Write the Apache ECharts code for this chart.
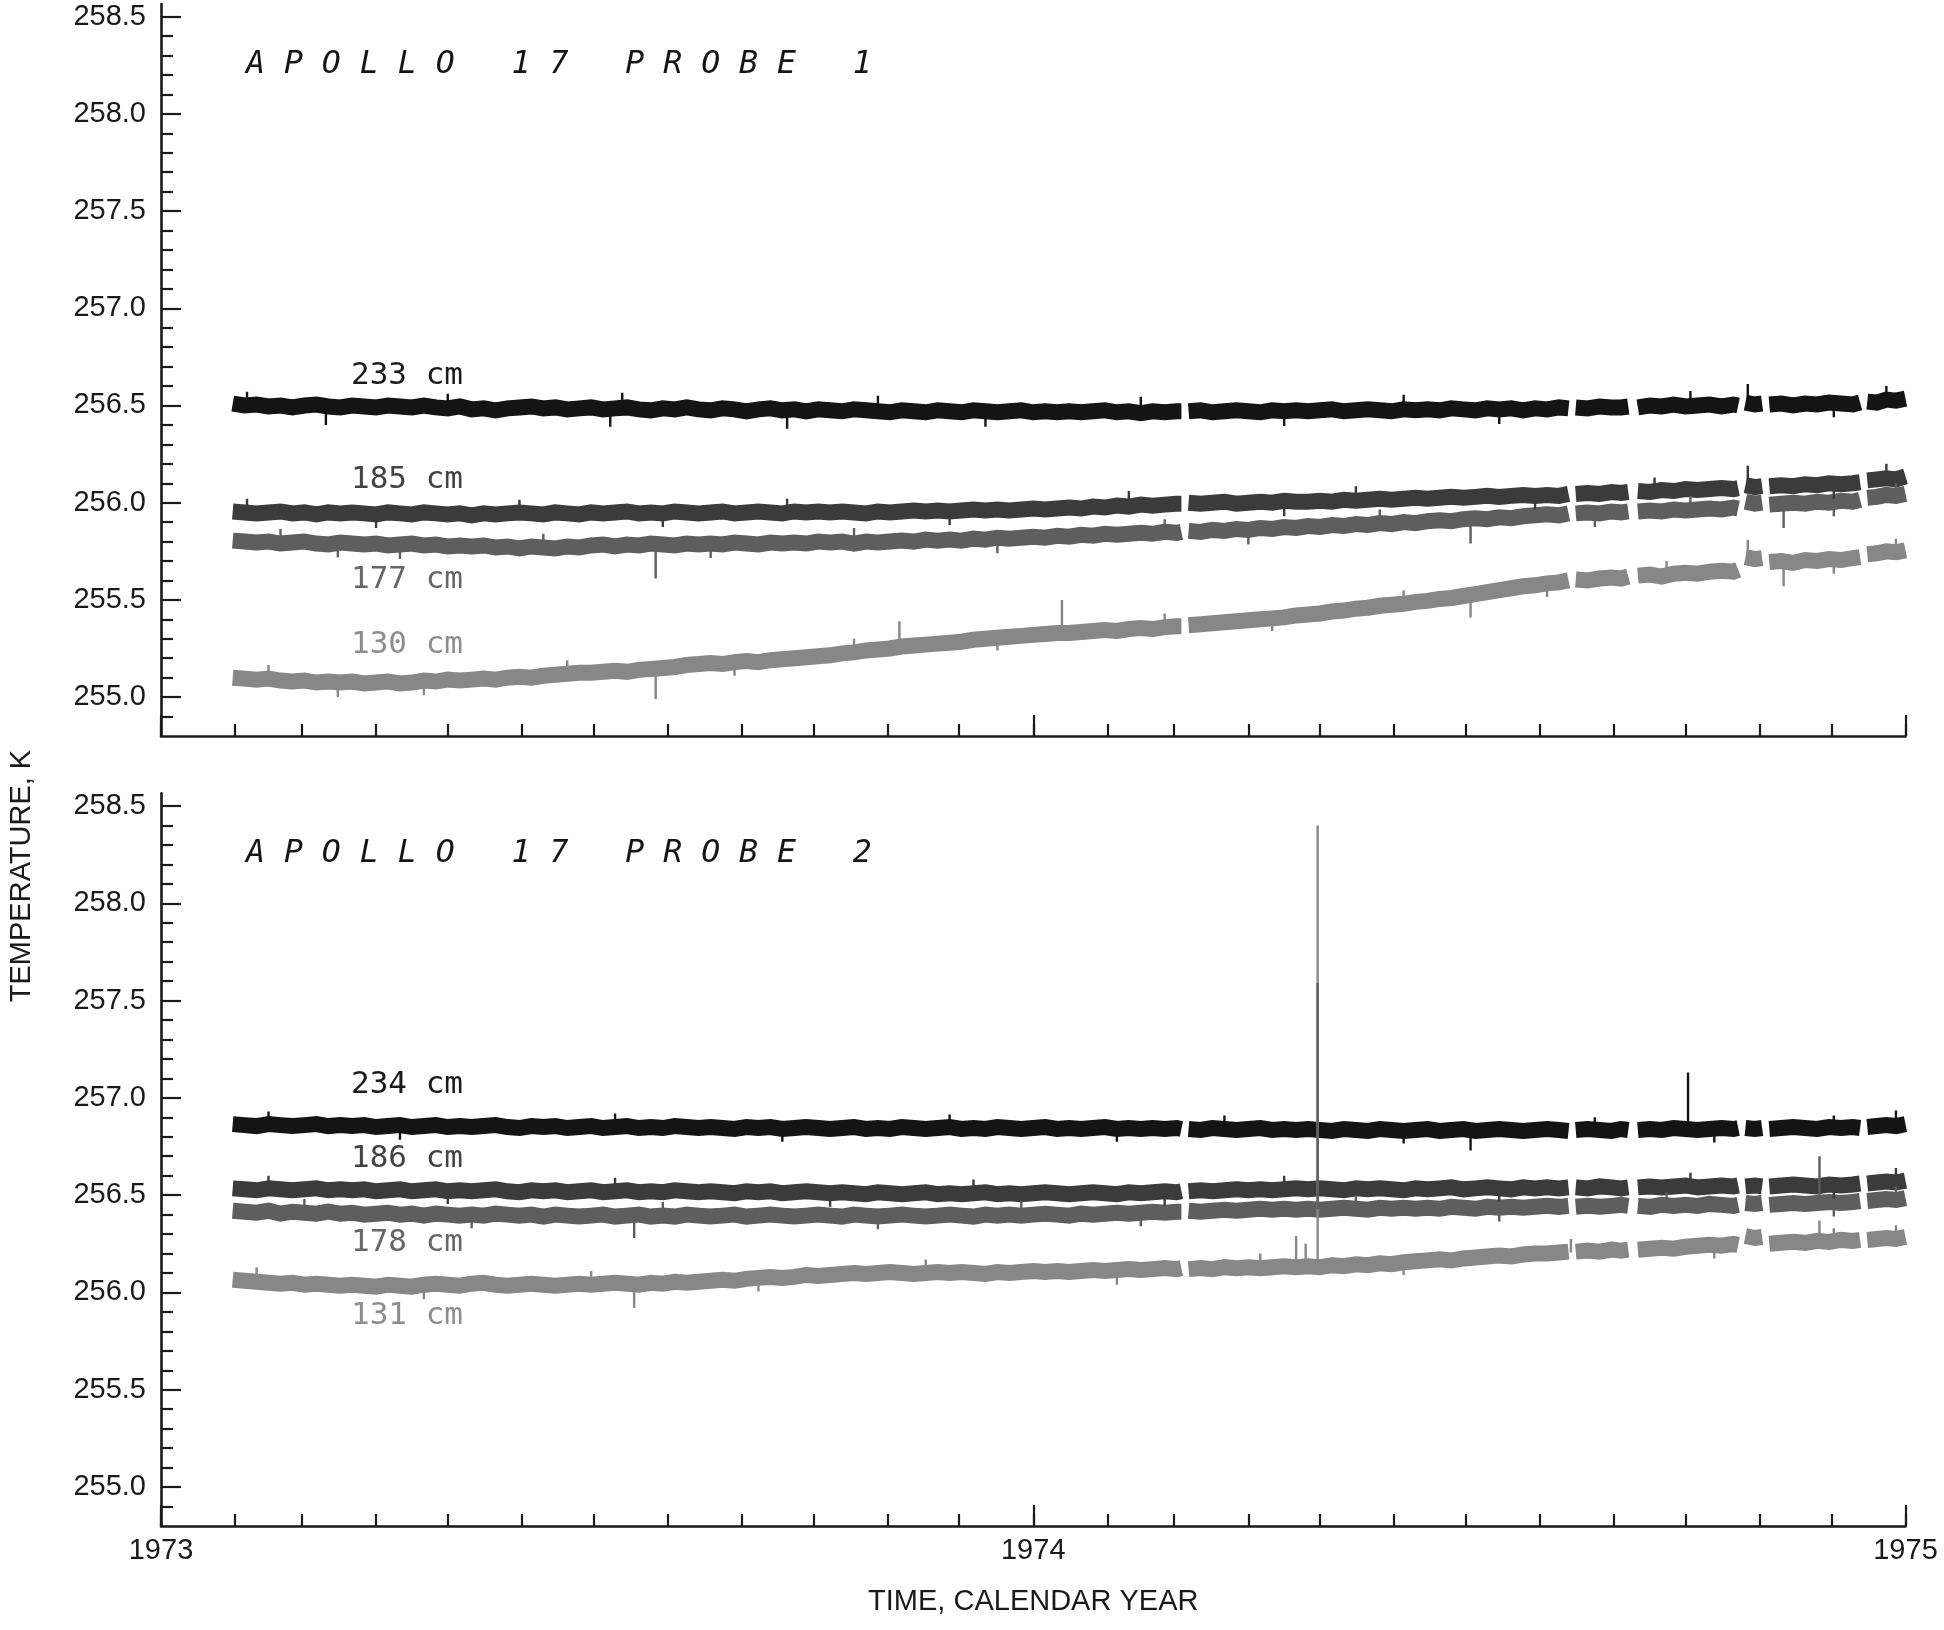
<!DOCTYPE html>
<html>
<head>
<meta charset="utf-8">
<script src="https://cdn.jsdelivr.net/npm/echarts@6/dist/echarts.min.js"></script>
<style>
html,body{margin:0;padding:0;background:#fff;}
#chart{width:1944px;height:1630px;}
</style>
</head>
<body>
<div id="chart"></div>
<script>
// ---------- x sampling (days since 1973-01-01), one array per data segment ----------
const DAYS = [
  [30,35,40,45,50,55,60,65,70,75,80,85,90,95,100,105,110,115,120,125,130,135,140,145,150,155,160,165,170,175,180,185,190,195,200,205,210,215,220,225,230,235,240,245,250,255,260,265,270,275,280,285,290,295,300,305,310,315,320,325,330,335,340,345,350,355,360,365,370,375,380,385,390,395,400,405,410,415,420,425,427],
  [430,435,440,445,450,455,460,465,470,475,480,485,490,495,500,505,510,515,520,525,530,535,540,545,550,555,560,565,570,575,580,585,589],
  [592,597,602,607,611,614],
  [618,623,628,633,638,643,648,653,658,660],
  [663,667,670],
  [673,678,683,688,693,698,703,708,711],
  [714,718,722,726,730]
];

// ---------- tick values ----------
const MONTH_TICKS = [0,31,59,90,120,151,181,212,243,273,304,334,365,396,424,455,485,516,546,577,608,638,669,699,730];
const YEAR_TICKS = [0,365,730];
const YEAR_LABELS = ['1973','1974','1975'];
const Y_MAJOR = [255.0,255.5,256.0,256.5,257.0,257.5,258.0,258.5];
const Y_MINOR = [254.9,255.1,255.2,255.3,255.4,255.6,255.7,255.8,255.9,256.1,256.2,256.3,256.4,256.6,256.7,256.8,256.9,257.1,257.2,257.3,257.4,257.6,257.7,257.8,257.9,258.1,258.2,258.3,258.4];

// ---------- PROBE 1 ----------
const p1_233 = [
  [256.51,256.50,256.505,256.495,256.50,256.49,256.50,256.505,256.495,256.49,
   256.50,256.495,256.49,256.50,256.495,256.49,256.50,256.49,256.485,256.495,
   256.48,256.485,256.475,256.485,256.49,256.495,256.485,256.49,256.48,256.485,
   256.49,256.48,256.485,256.49,256.48,256.475,256.485,256.48,256.49,256.48,
   256.475,256.485,256.48,256.47,256.48,256.485,256.475,256.48,256.47,256.48,
   256.475,256.47,256.48,256.475,256.47,256.465,256.475,256.47,256.465,256.475,
   256.47,256.465,256.475,256.47,256.465,256.47,256.475,256.465,256.47,256.465,
   256.47,256.465,256.47,256.475,256.465,256.47,256.46,256.47,256.465,256.47,
   256.47],
  [256.47,256.475,256.465,256.47,256.475,256.47,256.465,256.475,256.47,256.475,
   256.47,256.475,256.48,256.47,256.475,256.48,256.475,256.47,256.48,256.475,
   256.48,256.475,256.485,256.48,256.475,256.485,256.48,256.485,256.475,256.485,
   256.48,256.49,256.485],
  [256.49,256.485,256.495,256.49,256.49,256.495],
  [256.49,256.50,256.495,256.505,256.495,256.50,256.505,256.495,256.505,256.50],
  [256.515,256.505,256.51],
  [256.505,256.51,256.50,256.51,256.505,256.515,256.51,256.505,256.515],
  [256.52,256.515,256.53,256.525,256.535]
];
const p1_185 = [
  [255.955,255.95,255.945,255.95,255.955,255.945,255.95,255.94,255.95,255.945,
   255.95,255.945,255.94,255.95,255.945,255.94,255.95,255.945,255.94,255.945,
   255.935,255.945,255.94,255.945,255.95,255.945,255.94,255.95,255.945,255.94,
   255.95,255.945,255.95,255.955,255.945,255.95,255.945,255.955,255.95,255.945,
   255.95,255.955,255.945,255.95,255.955,255.95,255.945,255.955,255.95,255.955,
   255.95,255.955,255.95,255.945,255.955,255.95,255.955,255.96,255.955,255.96,
   255.955,255.96,255.965,255.96,255.965,255.96,255.965,255.97,255.965,255.97,
   255.975,255.97,255.98,255.975,255.985,255.98,255.99,255.985,255.99,255.995,
   255.995],
  [256.00,255.995,256.00,256.005,255.995,256.00,256.005,256.00,256.01,256.005,
   256.005,256.01,256.005,256.015,256.01,256.015,256.02,256.015,256.02,256.025,
   256.02,256.025,256.03,256.025,256.03,256.035,256.03,256.035,256.04,256.035,
   256.04,256.035,256.045],
  [256.045,256.05,256.045,256.055,256.05,256.055],
  [256.06,256.055,256.065,256.06,256.07,256.065,256.07,256.075,256.07,256.075],
  [256.09,256.08,256.085],
  [256.085,256.09,256.085,256.095,256.09,256.10,256.095,256.10,256.105],
  [256.115,256.12,256.125,256.12,256.135]
];
const p1_177 = [
  [255.805,255.80,255.795,255.80,255.79,255.795,255.80,255.79,255.785,255.795,
   255.79,255.785,255.79,255.78,255.785,255.79,255.78,255.785,255.775,255.78,
   255.775,255.78,255.77,255.775,255.765,255.775,255.77,255.765,255.775,255.77,
   255.78,255.785,255.775,255.785,255.78,255.79,255.785,255.78,255.79,255.785,
   255.79,255.785,255.795,255.79,255.785,255.795,255.79,255.795,255.79,255.80,
   255.795,255.80,255.79,255.80,255.795,255.80,255.805,255.80,255.81,255.805,
   255.81,255.805,255.815,255.81,255.82,255.815,255.82,255.825,255.82,255.83,
   255.825,255.835,255.83,255.84,255.835,255.84,255.845,255.84,255.85,255.845,
   255.85],
  [255.855,255.85,255.86,255.855,255.865,255.86,255.87,255.865,255.875,255.87,
   255.88,255.875,255.885,255.88,255.89,255.885,255.895,255.89,255.90,255.895,
   255.905,255.91,255.905,255.915,255.92,255.915,255.925,255.92,255.93,255.935,
   255.94,255.935,255.945],
  [255.945,255.95,255.945,255.955,255.95,255.955],
  [255.955,255.96,255.955,255.965,255.96,255.965,255.97,255.965,255.975,255.97],
  [256.005,255.995,256.00],
  [255.99,255.995,256.00,255.995,256.005,256.00,256.01,256.005,256.015],
  [256.025,256.03,256.04,256.035,256.045]
];
const p1_130 = [
  [255.10,255.095,255.09,255.095,255.085,255.08,255.085,255.075,255.08,255.075,
   255.08,255.07,255.075,255.08,255.07,255.075,255.085,255.08,255.09,255.085,
   255.09,255.095,255.09,255.10,255.105,255.10,255.11,255.115,255.12,255.125,
   255.125,255.13,255.135,255.13,255.14,255.145,255.15,255.155,255.165,255.17,
   255.175,255.17,255.18,255.185,255.18,255.19,255.195,255.20,255.205,255.21,
   255.215,255.225,255.23,255.24,255.245,255.25,255.26,255.265,255.27,255.275,
   255.28,255.285,255.295,255.30,255.305,255.31,255.315,255.32,255.325,255.33,
   255.33,255.335,255.34,255.345,255.34,255.35,255.355,255.35,255.36,255.365,
   255.365],
  [255.37,255.375,255.38,255.385,255.39,255.395,255.40,255.405,255.41,255.42,
   255.425,255.43,255.44,255.445,255.455,255.46,255.47,255.475,255.48,255.49,
   255.495,255.505,255.51,255.52,255.53,255.54,255.55,255.56,255.57,255.575,
   255.585,255.59,255.60],
  [255.605,255.60,255.61,255.615,255.61,255.62],
  [255.625,255.63,255.62,255.635,255.64,255.635,255.645,255.65,255.645,255.655],
  [255.72,255.71,255.715],
  [255.695,255.70,255.69,255.705,255.70,255.71,255.705,255.715,255.72],
  [255.735,255.74,255.75,255.745,255.755]
];

// ---------- PROBE 2 ----------
const p2_234 = [
  [256.865,256.86,256.855,256.865,256.86,256.855,256.86,256.865,256.855,256.86,
   256.855,256.86,256.85,256.855,256.86,256.85,256.855,256.86,256.85,256.855,
   256.85,256.855,256.86,256.85,256.845,256.855,256.85,256.855,256.845,256.85,
   256.855,256.845,256.85,256.855,256.845,256.85,256.845,256.855,256.85,256.845,
   256.85,256.845,256.84,256.85,256.845,256.85,256.84,256.845,256.85,256.845,
   256.84,256.845,256.85,256.84,256.845,256.84,256.85,256.845,256.84,256.845,
   256.85,256.84,256.845,256.84,256.85,256.845,256.84,256.845,256.85,256.84,
   256.845,256.84,256.845,256.85,256.84,256.845,256.84,256.845,256.84,256.845,
   256.84],
  [256.84,256.835,256.845,256.84,256.835,256.84,256.845,256.835,256.84,256.835,
   256.84,256.835,256.83,256.84,256.835,256.83,256.84,256.835,256.83,256.835,
   256.84,256.83,256.835,256.84,256.83,256.835,256.84,256.835,256.83,256.835,
   256.84,256.835,256.83],
  [256.835,256.84,256.835,256.83,256.84,256.835],
  [256.835,256.84,256.835,256.845,256.84,256.835,256.84,256.845,256.84,256.845],
  [256.845,256.84,256.845],
  [256.84,256.845,256.85,256.845,256.84,256.85,256.845,256.85,256.845],
  [256.85,256.855,256.86,256.855,256.865]
];
const p2_186 = [
  [256.535,256.53,256.525,256.535,256.53,256.525,256.53,256.535,256.525,256.53,
   256.525,256.53,256.52,256.525,256.53,256.52,256.525,256.53,256.52,256.525,
   256.52,256.525,256.53,256.52,256.515,256.525,256.52,256.525,256.515,256.52,
   256.525,256.515,256.52,256.525,256.515,256.52,256.515,256.525,256.52,256.515,
   256.52,256.515,256.51,256.52,256.515,256.52,256.51,256.515,256.52,256.515,
   256.51,256.515,256.51,256.505,256.515,256.51,256.505,256.51,256.515,256.505,
   256.51,256.505,256.51,256.515,256.505,256.51,256.505,256.51,256.515,256.51,
   256.505,256.51,256.515,256.51,256.505,256.515,256.51,256.515,256.52,256.515,
   256.52],
  [256.52,256.525,256.52,256.525,256.53,256.525,256.53,256.525,256.53,256.535,
   256.53,256.535,256.53,256.525,256.535,256.53,256.535,256.53,256.525,256.535,
   256.53,256.535,256.54,256.53,256.535,256.54,256.535,256.53,256.54,256.535,
   256.54,256.535,256.54],
  [256.54,256.535,256.545,256.54,256.535,256.54],
  [256.54,256.545,256.54,256.545,256.55,256.54,256.545,256.55,256.545,256.55],
  [256.545,256.55,256.545],
  [256.545,256.55,256.555,256.55,256.545,256.555,256.55,256.555,256.56],
  [256.56,256.565,256.57,256.565,256.575]
];
const p2_178 = [
  [256.42,256.415,256.41,256.42,256.405,256.415,256.41,256.405,256.415,256.405,
   256.41,256.40,256.405,256.41,256.40,256.405,256.395,256.405,256.40,256.395,
   256.40,256.395,256.405,256.40,256.395,256.40,256.39,256.40,256.395,256.39,
   256.395,256.40,256.39,256.395,256.40,256.39,256.395,256.39,256.40,256.395,
   256.39,256.395,256.40,256.39,256.395,256.40,256.395,256.39,256.395,256.40,
   256.395,256.39,256.40,256.395,256.39,256.395,256.40,256.395,256.39,256.395,
   256.40,256.395,256.39,256.40,256.395,256.40,256.395,256.40,256.405,256.40,
   256.395,256.405,256.40,256.405,256.41,256.405,256.41,256.415,256.41,256.415,
   256.415],
  [256.42,256.415,256.42,256.425,256.42,256.425,256.43,256.425,256.43,256.425,
   256.43,256.425,256.43,256.435,256.43,256.425,256.435,256.43,256.435,256.43,
   256.435,256.43,256.44,256.435,256.43,256.44,256.435,256.44,256.435,256.44,
   256.445,256.44,256.445],
  [256.44,256.445,256.44,256.445,256.45,256.445],
  [256.445,256.44,256.45,256.445,256.45,256.445,256.455,256.45,256.445,256.45],
  [256.46,256.455,256.46],
  [256.45,256.455,256.46,256.455,256.46,256.465,256.46,256.465,256.47],
  [256.47,256.475,256.48,256.475,256.485]
];
const p2_131 = [
  [256.065,256.06,256.055,256.05,256.045,256.05,256.04,256.045,256.04,256.035,
   256.04,256.035,256.03,256.04,256.035,256.03,256.04,256.045,256.04,256.035,
   256.045,256.05,256.04,256.035,256.04,256.045,256.04,256.035,256.04,256.045,
   256.04,256.045,256.05,256.045,256.04,256.05,256.045,256.055,256.05,256.055,
   256.06,256.065,256.06,256.07,256.075,256.08,256.075,256.08,256.09,256.085,
   256.09,256.095,256.10,256.095,256.10,256.105,256.10,256.095,256.10,256.105,
   256.10,256.105,256.10,256.095,256.105,256.10,256.105,256.11,256.105,256.11,
   256.105,256.11,256.115,256.11,256.115,256.12,256.115,256.12,256.125,256.12,
   256.125],
  [256.12,256.125,256.12,256.13,256.125,256.13,256.125,256.13,256.135,256.13,
   256.135,256.13,256.14,256.135,256.145,256.14,256.15,256.145,256.155,256.16,
   256.165,256.17,256.165,256.175,256.18,256.185,256.19,256.185,256.195,256.20,
   256.20,256.205,256.21],
  [256.21,256.215,256.21,256.22,256.215,256.22],
  [256.22,256.225,256.23,256.225,256.235,256.24,256.245,256.24,256.25,256.245],
  [256.29,256.28,256.285],
  [256.25,256.255,256.26,256.255,256.265,256.26,256.27,256.265,256.27],
  [256.27,256.275,256.28,256.275,256.285]
];

// ---------- isolated spikes / noise excursions: [day, from K, to K] ----------
const spikes_p1_233 = [[664,256.51,256.61],[36,256.50,256.57],[69,256.50,256.40],[120,256.49,256.56],[188,256.48,256.39],[193,256.485,256.565],[262,256.475,256.38],[300,256.475,256.55],[345,256.47,256.39],[410,256.47,256.545],[470,256.47,256.395],[520,256.475,256.555],[560,256.48,256.405],[640,256.50,256.575],[700,256.51,256.44],[722,256.52,256.60]];
const spikes_p1_185 = [[664,256.09,256.19],[36,255.95,256.02],[90,255.945,255.87],[150,255.945,256.015],[210,255.95,255.875],[262,255.95,256.02],[330,255.96,255.885],[405,255.985,256.06],[470,256.005,255.93],[500,256.01,256.085],[575,256.035,255.965],[625,256.06,256.13],[700,256.095,256.02],[722,256.12,256.20]];
const spikes_p1_177 = [[74,255.79,255.72],[207,255.78,255.61],[548,255.92,255.79],[679,255.99,255.87],[50,255.795,255.865],[100,255.785,255.71],[160,255.77,255.84],[230,255.79,255.715],[290,255.80,255.87],[350,255.815,255.74],[420,255.845,255.915],[455,255.86,255.785],[510,255.895,255.965],[600,255.95,255.875],[640,255.965,256.035],[700,256.0,255.93],[726,256.035,256.10]];
const spikes_p1_130 = [[74,255.08,255.0],[207,255.14,254.99],[309,255.25,255.39],[377,255.32,255.50],[548,255.52,255.41],[664,255.72,255.81],[679,255.70,255.57],[45,255.095,255.165],[110,255.08,255.01],[170,255.12,255.19],[240,255.18,255.11],[290,255.23,255.30],[350,255.31,255.24],[420,255.36,255.43],[465,255.41,255.34],[520,255.48,255.55],[580,255.585,255.515],[630,255.635,255.70],[700,255.705,255.635],[726,255.745,255.815]];
const spikes_p2_234 = [[548,256.84,256.73],[639,256.84,257.13],[45,256.86,256.93],[100,256.855,256.785],[190,256.85,256.92],[260,256.845,256.775],[330,256.845,256.915],[400,256.845,256.775],[445,256.84,256.91],[520,256.835,256.765],[600,256.835,256.90],[650,256.84,256.77],[700,256.845,256.91],[726,256.86,256.935]];
const spikes_p2_186 = [[45,256.53,256.60],[120,256.525,256.455],[190,256.52,256.59],[280,256.51,256.44],[340,256.51,256.58],[420,256.515,256.445],[470,256.53,256.60],[560,256.535,256.465],[640,256.545,256.615],[700,256.55,256.48],[726,256.565,256.64]];
const spikes_p2_178 = [[198,256.39,256.28],[484,256.43,257.59],[694,256.46,256.70],[60,256.41,256.48],[130,256.40,256.33],[210,256.395,256.465],[300,256.395,256.325],[360,256.40,256.47],[410,256.41,256.34],[500,256.43,256.50],[560,256.435,256.365],[630,256.445,256.515],[700,256.46,256.39],[726,256.475,256.545]];
const spikes_p2_131 = [[198,256.045,255.92],[475,256.13,256.29],[479,256.13,256.25],[484,256.13,258.40],[694,256.26,256.37],[40,256.06,256.13],[110,256.035,255.965],[180,256.04,256.11],[250,256.075,256.005],[320,256.10,256.17],[400,256.11,256.04],[460,256.13,256.20],[520,256.16,256.09],[590,256.205,256.275],[650,256.245,256.175],[700,256.26,256.33],[726,256.275,256.345]];

const TITLES = ['A P O L L O   1 7   P R O B E   1', 'A P O L L O   1 7   P R O B E   2'];
const SERIES_LABELS_P1 = ['233 cm','185 cm','177 cm','130 cm'];
const SERIES_LABELS_P2 = ['234 cm','186 cm','178 cm','131 cm'];
const COLORS = ['#141414','#3b3b3b','#5e5e5e','#878787'];
const LABEL_COLORS = ['#1a1a1a','#434343','#666666','#8e8e8e'];

// ---------- builders ----------
function build(segs){
  const out = [];
  segs.forEach((seg, i) => {
    if (i > 0) {
      const a = DAYS[i-1][DAYS[i-1].length-1], b = DAYS[i][0];
      out.push([(a+b)/2, null]);
    }
    const n = Math.min(seg.length, DAYS[i].length);
    for (let j = 0; j < n; j++) out.push([DAYS[i][j], seg[j]]);
  });
  return out;
}
function buildSpikes(list){
  const out = [];
  list.forEach(s => { out.push([s[0], s[1]]); out.push([s[0], s[2]]); out.push([s[0], null]); });
  return out;
}

const AX = '#1a1a1a';
const LABEL_FONT = 'Liberation Sans';
const MONO = 'DejaVu Sans Mono';
const BAND_W = 16;
const SPIKE_W = 2.4;

const grids = [
  {left:161, top:4, width:1744.5, height:732, containLabel:false, outerBoundsMode:'none'},
  {left:161, top:793.3, width:1744.5, height:732.7, containLabel:false, outerBoundsMode:'none'}
];

function xMinor(gi, withLabels){
  return {
    type:'value', gridIndex:gi, position:'bottom', min:0, max:730,
    axisLine:{show:true, onZero:false, lineStyle:{color:AX, width:2.6}},
    axisTick:{show:true, inside:true, length:12, customValues:MONTH_TICKS, lineStyle:{color:AX, width:2.2}},
    axisLabel:{show:withLabels, customValues:YEAR_TICKS, margin:10, fontSize:29, fontFamily:LABEL_FONT, color:AX,
      showMinLabel:true, showMaxLabel:true,
      formatter:function(v){ const k = YEAR_TICKS.indexOf(Math.round(v)); return k >= 0 ? YEAR_LABELS[k] : ''; }},
    splitLine:{show:false},
    name: withLabels ? 'TIME, CALENDAR YEAR' : '',
    nameLocation:'middle', nameGap:61,
    nameTextStyle:{fontSize:29, fontFamily:LABEL_FONT, color:AX}
  };
}
function xMajor(gi){
  return {
    type:'value', gridIndex:gi, position:'bottom', min:0, max:730,
    axisLine:{show:false, onZero:false},
    axisTick:{show:true, inside:true, length:21, customValues:YEAR_TICKS, lineStyle:{color:AX, width:2.2}},
    axisLabel:{show:false}, splitLine:{show:false}
  };
}
function yMajor(gi){
  return {
    type:'value', gridIndex:gi, position:'left', min:254.8, max:258.565,
    axisLine:{show:true, onZero:false, lineStyle:{color:AX, width:2.6}},
    axisTick:{show:true, inside:true, length:20, customValues:Y_MAJOR, lineStyle:{color:AX, width:2.2}},
    axisLabel:{show:true, customValues:Y_MAJOR, margin:15, fontSize:29, fontFamily:LABEL_FONT, color:AX,
      formatter:function(v){ return Number(v).toFixed(1); }},
    splitLine:{show:false}
  };
}
function yMinor(gi){
  return {
    type:'value', gridIndex:gi, position:'left', min:254.8, max:258.565,
    axisLine:{show:false, onZero:false},
    axisTick:{show:true, inside:true, length:12, customValues:Y_MINOR, lineStyle:{color:AX, width:2.2}},
    axisLabel:{show:false}, splitLine:{show:false}
  };
}

function lineSeries(data, xi, yi, color, width, z){
  return {
    type:'line', data:data, xAxisIndex:xi, yAxisIndex:yi,
    showSymbol:false, symbol:'none', connectNulls:false, silent:true, animation:false,
    lineStyle:{color:color, width:width, join:'miter'}, z:z
  };
}

const series = [
  lineSeries(build(p1_233), 0, 0, COLORS[0], BAND_W, 2),
  lineSeries(build(p1_185), 0, 0, COLORS[1], BAND_W, 2),
  lineSeries(build(p1_177), 0, 0, COLORS[2], BAND_W, 2),
  lineSeries(build(p1_130), 0, 0, COLORS[3], BAND_W, 2),
  lineSeries(buildSpikes(spikes_p1_233), 0, 0, COLORS[0], SPIKE_W, 3),
  lineSeries(buildSpikes(spikes_p1_185), 0, 0, COLORS[1], SPIKE_W, 3),
  lineSeries(buildSpikes(spikes_p1_177), 0, 0, COLORS[2], SPIKE_W, 3),
  lineSeries(buildSpikes(spikes_p1_130), 0, 0, COLORS[3], SPIKE_W, 3),
  lineSeries(build(p2_234), 2, 2, COLORS[0], BAND_W, 2),
  lineSeries(build(p2_186), 2, 2, COLORS[1], BAND_W, 2),
  lineSeries(build(p2_178), 2, 2, COLORS[2], BAND_W, 2),
  lineSeries(build(p2_131), 2, 2, COLORS[3], BAND_W, 2),
  lineSeries(buildSpikes(spikes_p2_131), 2, 2, COLORS[3], SPIKE_W, 3),
  lineSeries(buildSpikes(spikes_p2_186), 2, 2, COLORS[1], SPIKE_W, 3),
  lineSeries(buildSpikes(spikes_p2_178), 2, 2, COLORS[2], SPIKE_W, 3),
  lineSeries(buildSpikes(spikes_p2_234), 2, 2, COLORS[0], SPIKE_W, 3)
];

function txt(text, x, y, opts){
  return Object.assign({
    type:'text', x:x, y:y, z:10, silent:true,
    style:{text:text, fill:opts.fill, fontSize:opts.size, fontFamily:opts.family, fontStyle:opts.style||'normal',
      align:opts.align||'left', textAlign:opts.align||'left', verticalAlign:'middle', textVerticalAlign:'middle'}
  }, opts.rotation ? {rotation:opts.rotation} : {});
}

const labelY1 = [376, 480, 579.5, 645];
const labelY2 = [1084.5, 1158.5, 1242.5, 1316];
const graphics = [
  txt(TITLES[0], 246, 65, {fill:'#151515', size:31.5, family:MONO, style:'italic'}),
  txt(TITLES[1], 246, 854.3, {fill:'#151515', size:31.5, family:MONO, style:'italic'}),
  txt('TEMPERATURE, K', 22, 876, {fill:AX, size:29, family:LABEL_FONT, align:'center', rotation:Math.PI/2})
];
SERIES_LABELS_P1.forEach((t,i) => graphics.push(txt(t, 351, labelY1[i], {fill:LABEL_COLORS[i], size:31, family:MONO})));
SERIES_LABELS_P2.forEach((t,i) => graphics.push(txt(t, 351, labelY2[i], {fill:LABEL_COLORS[i], size:31, family:MONO})));

const chart = echarts.init(document.getElementById('chart'), null, {renderer:'canvas'});
chart.setOption({
  animation:false,
  backgroundColor:'#ffffff',
  grid:grids,
  xAxis:[xMinor(0,false), xMajor(0), xMinor(1,true), xMajor(1)],
  yAxis:[yMajor(0), yMinor(0), yMajor(1), yMinor(1)],
  series:series,
  graphic:graphics
});
</script>
</body>
</html>
